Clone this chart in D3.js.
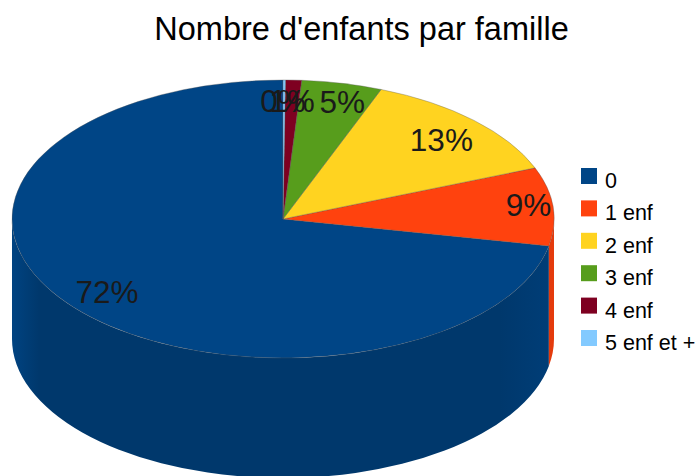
<!DOCTYPE html>
<html>
<head>
<meta charset="utf-8">
<script src="https://cdn.jsdelivr.net/npm/d3@7"></script>
<style>
  body { margin: 0; background: #fff; }
  svg { display: block; }
  text { font-family: "Liberation Sans", Arial, sans-serif; }
</style>
</head>
<body>
<svg width="697" height="476"></svg>
<script>
// values, pie runs counter-clockwise from 12 o'clock
const categories = ["0", "1 enf", "2 enf", "3 enf", "4 enf", "5 enf et +"];
const shares = [71.9, 9.1, 13.1, 4.8, 0.95, 0.15];
const colors = ["#004586", "#ff420e", "#ffd320", "#579d1c", "#7e0021", "#83caff"];
const title = "Nombre d'enfants par famille";

const svg = d3.select("svg");

const cx = 283, cy = 219, rx = 271, ry = 139, depth = 120;

// hand nudges for the percent labels, same order as the slices
const labelNudge = [[2, -2], [16, -3], [-4, 5], [9, -2], [0, 0], [-1, 0]];

const slices = d3.pie().sort(null).startAngle(0).endAngle(-2 * Math.PI)
    .value(function (d) { return d; })(shares);

const colorScale = d3.scaleOrdinal().domain(categories).range(colors);
const total = d3.sum(shares);

// point on the rim, angle is clockwise from the top like d3.arc
function rim(a, drop) {
    return [cx + rx * Math.sin(a), cy - ry * Math.cos(a) + drop];
}

// side wall: only the part of the slice on the front half (pi/2 .. 3pi/2) shows
function wallPath(d) {
    // pie goes negative here, bring it in 0..2pi
    let a0 = d.endAngle + 2 * Math.PI, a1 = d.startAngle + 2 * Math.PI;
    a0 = Math.max(a0, Math.PI / 2);
    a1 = Math.min(a1, 3 * Math.PI / 2);
    if (a1 <= a0) return null;
    const p0 = rim(a0, 0), p1 = rim(a1, 0), q0 = rim(a0, depth), q1 = rim(a1, depth);
    return "M" + p0 + "A" + rx + "," + ry + " 0 0 1 " + p1 +
        "L" + q1 + "A" + rx + "," + ry + " 0 0 0 " + q0 + "Z";
}

svg.append("text")
    .attr("x", 361.5)
    .attr("y", 40)
    .attr("text-anchor", "middle")
    .style("font-size", "32.5px")
    .style("fill", "#000")
    .text(title);

// walls get a bit lighter right at the left and right edge
const grads = svg.append("defs").selectAll("linearGradient")
    .data(colors)
    .enter().append("linearGradient")
    .attr("id", function (d, i) { return "wall" + i; })
    .attr("gradientUnits", "userSpaceOnUse")
    .attr("x1", cx - rx)
    .attr("x2", cx + rx)
    .attr("y1", 0)
    .attr("y2", 0);
[[0, 0.1], [0.05, 0.6], [0.9, 0.6], [1, 0.3]].forEach(function (s) {
    grads.append("stop")
        .attr("offset", s[0])
        .attr("stop-color", function (c) { return d3.color(c).darker(s[1]); });
});

const walls = svg.append("g");
walls.selectAll("path")
    .data(slices)
    .enter().append("path")
    .attr("d", wallPath)
    .attr("fill", function (d, i) { return "url(#wall" + i + ")"; });

// top face, unit arc squashed into the ellipse
const arc = d3.arc().innerRadius(0).outerRadius(1);
const topFace = svg.append("g")
    .attr("transform", "translate(" + cx + "," + cy + ") scale(" + rx + "," + ry + ")");
topFace.selectAll("path")
    .data(slices)
    .enter().append("path")
    .attr("d", arc)
    .attr("fill", function (d, i) { return colors[i]; })
    .attr("stroke", "#555")
    .attr("stroke-opacity", 0.35)
    .attr("stroke-width", 1)
    .attr("vector-effect", "non-scaling-stroke");

// percent labels
const labelArc = d3.arc().innerRadius(0.85).outerRadius(0.85);
svg.append("g").selectAll("text")
    .data(slices)
    .enter().append("text")
    .attr("x", function (d, i) { return cx + rx * labelArc.centroid(d)[0] + labelNudge[i][0]; })
    .attr("y", function (d, i) { return cy + ry * labelArc.centroid(d)[1] + 11 + labelNudge[i][1]; })
    .attr("text-anchor", "middle")
    .style("font-size", "31.5px")
    .style("fill", "#1a1a1a")
    .text(function (d) { return Math.round(d.data / total * 100) + "%"; });

// legend
const legendY = d3.scalePoint().domain(categories).range([176, 338]);
const legend = svg.append("g").selectAll("g")
    .data(categories)
    .enter().append("g")
    .attr("transform", function (d) { return "translate(0," + legendY(d) + ")"; });

legend.append("rect")
    .attr("x", 581)
    .attr("y", -8)
    .attr("width", 16)
    .attr("height", 16)
    .attr("fill", function (d) { return colorScale(d); });

legend.append("text")
    .attr("x", 605)
    .attr("y", 12)
    .style("font-size", "21.5px")
    .style("fill", "#000")
    .text(function (d) { return d; });
</script>
</body>
</html>
